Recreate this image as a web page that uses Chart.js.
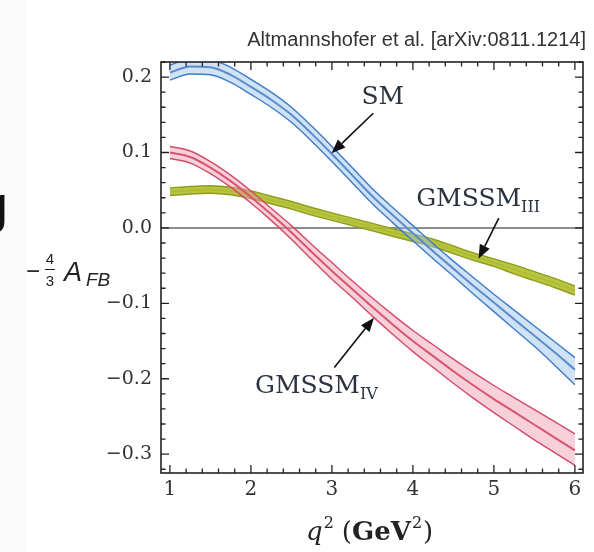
<!DOCTYPE html>
<html>
<head>
<meta charset="utf-8">
<script src="https://cdn.jsdelivr.net/npm/chart.js@4.4.1/dist/chart.umd.min.js"></script>
<style>
  html, body { margin: 0; padding: 0; background: #fff; }
  #wrap { width: 594px; height: 552px; position: relative; }
</style>
</head>
<body>
<div id="wrap"><canvas id="afb" width="594" height="552"></canvas></div>
<script>
// q^2 grid (GeV^2)
const q2 = [1, 1.25, 1.5, 1.75, 2, 2.25, 2.5, 2.75, 3, 3.25, 3.5, 3.75, 4, 4.25, 4.5, 4.75, 5, 5.25, 5.5, 5.75, 6];

// SM band
const smMid = [0.206, 0.214, 0.213, 0.203, 0.187, 0.170, 0.150, 0.125, 0.098, 0.070, 0.042, 0.017, -0.007, -0.031, -0.054, -0.077, -0.099, -0.121, -0.143, -0.165, -0.188];
const smHi  = [0.216, 0.224, 0.223, 0.213, 0.197, 0.180, 0.160, 0.135, 0.108, 0.080, 0.052, 0.027, 0.003, -0.021, -0.044, -0.066, -0.088, -0.109, -0.130, -0.151, -0.172];
const smLo  = [0.196, 0.204, 0.203, 0.193, 0.177, 0.160, 0.140, 0.115, 0.088, 0.060, 0.032, 0.007, -0.017, -0.041, -0.064, -0.088, -0.111, -0.134, -0.157, -0.182, -0.208];

// GMSSM_IV band
const ivMid = [0.100, 0.094, 0.080, 0.062, 0.041, 0.018, -0.006, -0.032, -0.057, -0.081, -0.105, -0.128, -0.150, -0.170, -0.190, -0.209, -0.227, -0.244, -0.261, -0.278, -0.295];
const ivHi  = [0.108, 0.102, 0.088, 0.070, 0.049, 0.026, 0.003, -0.022, -0.046, -0.070, -0.093, -0.115, -0.136, -0.155, -0.174, -0.192, -0.209, -0.225, -0.241, -0.257, -0.273];
const ivLo  = [0.092, 0.086, 0.072, 0.054, 0.033, 0.010, -0.015, -0.042, -0.068, -0.092, -0.117, -0.141, -0.164, -0.185, -0.206, -0.226, -0.245, -0.263, -0.281, -0.298, -0.315];

// GMSSM_III band
const iiiMid = [0.048, 0.050, 0.051, 0.049, 0.044, 0.037, 0.030, 0.022, 0.015, 0.008, 0.001, -0.006, -0.013, -0.020, -0.029, -0.038, -0.046, -0.055, -0.064, -0.073, -0.083];
const iiiHi  = [0.053, 0.055, 0.056, 0.054, 0.049, 0.042, 0.035, 0.027, 0.020, 0.013, 0.006, -0.001, -0.008, -0.015, -0.024, -0.033, -0.041, -0.049, -0.058, -0.067, -0.077];
const iiiLo  = [0.043, 0.045, 0.046, 0.044, 0.039, 0.032, 0.025, 0.017, 0.010, 0.003, -0.004, -0.011, -0.018, -0.025, -0.034, -0.043, -0.051, -0.061, -0.070, -0.079, -0.089];

// axis ticks
const xTicks = [1, 2, 3, 4, 5, 6];
const yTicks = [-0.3, -0.2, -0.1, 0.0, 0.1, 0.2];

// labels + arrows in data coords: [text, sub, labelX, labelY, fromX, fromY, toX, toY]
const notes = [
    ['SM', '', 3.365, 0.164, 3.51, 0.152, 2.996, 0.099],
    ['GMSSM', 'III', 4.04, 0.029, 5.06, 0.013, 4.81, -0.041],
    ['GMSSM', 'IV', 2.05, -0.2185, 3.03, -0.185, 3.52, -0.119]
];

const pts = arr => arr.map((v, i) => ({ x: q2[i], y: v }));

// 一条带 = 上沿 + 下沿(填充) + 中线
function band(hi, lo, mid, edge, fillColor, midColor, edgeW, midW) {
    const base = { pointRadius: 0, borderJoinStyle: 'round', cubicInterpolationMode: 'monotone' };
    return [
        { ...base, data: pts(hi), borderColor: edge, borderWidth: edgeW, fill: false },
        { ...base, data: pts(lo), borderColor: edge, borderWidth: edgeW, fill: '-1', backgroundColor: fillColor },
        { ...base, data: pts(mid), borderColor: midColor, borderWidth: midW, fill: false }
    ];
}

const frame = {
    id: 'frame',
    beforeDatasetsDraw(chart) {
        const { ctx, chartArea: a, scales: { y } } = chart;
        const y0 = y.getPixelForValue(0);
        ctx.save();
        ctx.strokeStyle = '#666';
        ctx.lineWidth = 1.5;
        ctx.beginPath();
        ctx.moveTo(a.left, y0);
        ctx.lineTo(a.right, y0);
        ctx.stroke();
        ctx.restore();
    },
    afterDraw(chart) {
        const { ctx, chartArea: a, scales: { x, y } } = chart;
        ctx.save();

        // 外框
        ctx.strokeStyle = '#222';
        ctx.lineWidth = 1.6;
        ctx.strokeRect(a.left, a.top, a.right - a.left, a.bottom - a.top);

        // 刻度（朝内，四边）
        ctx.lineWidth = 1.3;
        ctx.beginPath();
        for (let k = 0; k <= 25; k++) {
            const v = 1 + k * 0.2;
            const px = x.getPixelForValue(v);
            const len = k % 5 === 0 ? 8 : 4.5;
            ctx.moveTo(px, a.bottom); ctx.lineTo(px, a.bottom - len);
            ctx.moveTo(px, a.top); ctx.lineTo(px, a.top + len);
        }
        for (let k = -16; k <= 11; k++) {
            const v = k * 0.02;
            const py = y.getPixelForValue(v);
            const len = k % 5 === 0 ? 8 : 4.5;
            ctx.moveTo(a.left, py); ctx.lineTo(a.left + len, py);
            ctx.moveTo(a.right, py); ctx.lineTo(a.right - len, py);
        }
        ctx.stroke();

        // 曲线标注
        notes.forEach(([txt, sub, lx, ly, fx, fy, tx, ty]) => {
            const x1 = x.getPixelForValue(fx), y1 = y.getPixelForValue(fy);
            const x2 = x.getPixelForValue(tx), y2 = y.getPixelForValue(ty);
            const ang = Math.atan2(y2 - y1, x2 - x1);
            const hl = 14, hw = 5.5;
            const bx = x2 - hl * Math.cos(ang), by = y2 - hl * Math.sin(ang);
            ctx.strokeStyle = '#111';
            ctx.lineWidth = 1.6;
            ctx.beginPath();
            ctx.moveTo(x1, y1);
            ctx.lineTo(bx, by);
            ctx.stroke();
            ctx.fillStyle = '#111';
            ctx.beginPath();
            ctx.moveTo(x2, y2);
            ctx.lineTo(bx + hw * Math.sin(ang), by - hw * Math.cos(ang));
            ctx.lineTo(bx - hw * Math.sin(ang), by + hw * Math.cos(ang));
            ctx.closePath();
            ctx.fill();

            const px = x.getPixelForValue(lx), py = y.getPixelForValue(ly);
            ctx.fillStyle = '#2b3340';
            ctx.textAlign = 'left';
            ctx.textBaseline = 'alphabetic';
            ctx.font = '25px "DejaVu Serif"';
            ctx.fillText(txt, px, py);
            if (sub) {
                const w = ctx.measureText(txt).width;
                ctx.font = '16px "DejaVu Serif"';
                ctx.fillText(sub, px + w, py + 6);
            }
        });

        // 标题
        ctx.fillStyle = '#333';
        ctx.font = '20px "Liberation Sans"';
        ctx.textAlign = 'right';
        ctx.fillText('Altmannshofer et al. [arXiv:0811.1214]', 586, 46);

        // x 轴标题 q^2 (GeV^2)
        ctx.fillStyle = '#222';
        ctx.textAlign = 'left';
        const cx = (a.left + a.right) / 2;
        let px = cx - 66;
        const base = 540;
        ctx.font = 'italic 26px "DejaVu Serif"';
        ctx.fillText('q', px, base); px += ctx.measureText('q').width;
        ctx.font = '16px "DejaVu Serif"';
        ctx.fillText('2', px + 1, base - 12); px += ctx.measureText('2').width + 9;
        ctx.font = '26px "DejaVu Serif"';
        ctx.fillText('(', px, base); px += ctx.measureText('(').width;
        ctx.font = 'bold 26px "DejaVu Serif"';
        ctx.fillText('GeV', px, base); px += ctx.measureText('GeV').width;
        ctx.font = '16px "DejaVu Serif"';
        ctx.fillText('2', px + 1, base - 12); px += ctx.measureText('2').width + 2;
        ctx.font = '26px "DejaVu Serif"';
        ctx.fillText(')', px, base);

        // y 轴标题 -4/3 A_FB
        ctx.fillStyle = '#222';
        ctx.font = '24px "Liberation Sans"';
        ctx.fillText('−', 26, 279);
        ctx.font = '15px "Liberation Sans"';
        ctx.textAlign = 'center';
        ctx.fillText('4', 50, 264);
        ctx.fillText('3', 50, 286);
        ctx.fillRect(45, 269, 10, 1);
        ctx.textAlign = 'left';
        ctx.font = 'italic 27px "Liberation Sans"';
        ctx.fillText('A', 64, 281);
        ctx.font = 'italic 19px "Liberation Sans"';
        ctx.fillText('FB', 86, 286);

        ctx.restore();
    }
};

// 背景：左侧残留的幻灯片边缘和 "g"
const backdrop = {
    id: 'backdrop',
    beforeDraw(chart) {
        const { ctx } = chart;
        ctx.save();
        ctx.fillStyle = '#ffffff';
        ctx.fillRect(0, 0, 594, 552);
        ctx.fillStyle = '#fbfbfb';
        ctx.fillRect(0, 0, 27, 552);
        ctx.fillStyle = '#111';
        ctx.font = '52px "Liberation Sans"';
        ctx.textAlign = 'left';
        ctx.fillText('g', -21, 222);
        ctx.restore();
    }
};

new Chart(document.getElementById('afb'), {
    type: 'line',
    data: {
        datasets: [
            ...band(ivHi, ivLo, ivMid, '#d44a6a', 'rgba(238,150,170,0.45)', '#c4203f', 1.4, 2),
            ...band(smHi, smLo, smMid, '#3d7cc8', 'rgba(150,190,232,0.45)', '#2a62b0', 1.4, 2),
            ...band(iiiHi, iiiLo, iiiMid, '#8e9e1c', 'rgba(176,190,48,0.9)', '#a0b024', 1.4, 2)
        ]
    },
    options: {
        responsive: false,
        animation: false,
        layout: { padding: { top: 62, right: 11, left: 0, bottom: 0 } },
        plugins: {
            legend: { display: false },
            tooltip: { enabled: false },
            filler: { propagate: false }
        },
        scales: {
            x: {
                type: 'linear',
                min: 0.89,
                max: 6.1,
                grid: { display: false, drawTicks: false },
                border: { display: false },
                afterBuildTicks: s => { s.ticks = xTicks.map(v => ({ value: v })); },
                afterFit: s => { s.height = 79; },
                ticks: {
                    padding: 5,
                    color: '#333',
                    font: { family: 'DejaVu Serif', size: 20 },
                    callback: v => String(v)
                }
            },
            y: {
                type: 'linear',
                min: -0.325,
                max: 0.22,
                grid: { display: false, drawTicks: false },
                border: { display: false },
                afterBuildTicks: s => { s.ticks = yTicks.map(v => ({ value: v })); },
                afterFit: s => { s.width = 161; },
                ticks: {
                    padding: 9,
                    color: '#333',
                    font: { family: 'DejaVu Serif', size: 19 },
                    callback: v => v.toFixed(1).replace('-', '−')
                }
            }
        }
    },
    plugins: [backdrop, frame]
});
</script>
</body>
</html>
